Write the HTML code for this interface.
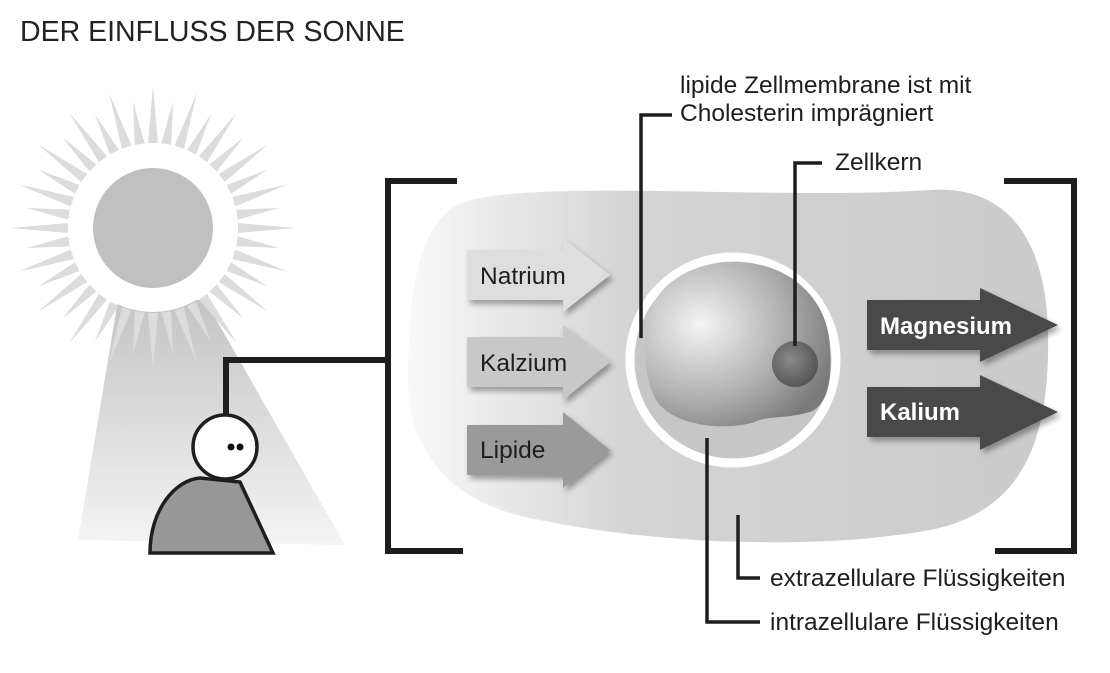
<!DOCTYPE html>
<html><head><meta charset="utf-8"><style>
html,body{margin:0;padding:0;background:#fff;}
svg{display:block;font-family:"Liberation Sans",Arial,sans-serif;}
</style></head><body>
<svg width="1110" height="673" viewBox="0 0 1110 673" xmlns="http://www.w3.org/2000/svg">
<defs>
<linearGradient id="beam" x1="0" y1="0" x2="0" y2="1">
<stop offset="0" stop-color="#c4c4c4"/><stop offset="1" stop-color="#f4f4f4"/></linearGradient>
<linearGradient id="blob" x1="0" y1="0" x2="1" y2="0">
<stop offset="0" stop-color="#f8f8f8"/><stop offset="0.35" stop-color="#d4d4d4"/><stop offset="1" stop-color="#cbcbcb"/></linearGradient>
<radialGradient id="sph" cx="0.3" cy="0.38" r="0.75">
<stop offset="0" stop-color="#f4f4f4"/><stop offset="0.6" stop-color="#b0b0b0"/><stop offset="1" stop-color="#7a7a7a"/></radialGradient>
<radialGradient id="nuc" cx="0.4" cy="0.4" r="0.7">
<stop offset="0" stop-color="#8a8a8a"/><stop offset="1" stop-color="#4e4e4e"/></radialGradient>
<filter id="sh"><feDropShadow dx="3" dy="4" stdDeviation="3" flood-color="#000" flood-opacity="0.35"/></filter>
<polygon id="rl" points="148,143 153,86 158,143"/>
<polygon id="rs" points="148,143 153,100 158,143"/>
</defs>
<text x="20" y="41" font-size="28.5" fill="#222">DER EINFLUSS DER SONNE</text>

<!-- beam -->
<polygon points="118,300 205,300 345,545 78,540" fill="url(#beam)"/>
<circle cx="153" cy="228" r="84" fill="#fff"/>
<g fill="#dcdcdc">
<use href="#rl" transform="rotate(0 153 228)"/><use href="#rs" transform="rotate(9 153 228)"/>
<use href="#rl" transform="rotate(18 153 228)"/><use href="#rs" transform="rotate(27 153 228)"/>
<use href="#rl" transform="rotate(36 153 228)"/><use href="#rs" transform="rotate(45 153 228)"/>
<use href="#rl" transform="rotate(54 153 228)"/><use href="#rs" transform="rotate(63 153 228)"/>
<use href="#rl" transform="rotate(72 153 228)"/><use href="#rs" transform="rotate(81 153 228)"/>
<use href="#rl" transform="rotate(90 153 228)"/><use href="#rs" transform="rotate(99 153 228)"/>
<use href="#rl" transform="rotate(108 153 228)"/><use href="#rs" transform="rotate(117 153 228)"/>
<use href="#rl" transform="rotate(126 153 228)"/><use href="#rs" transform="rotate(135 153 228)"/>
<use href="#rl" transform="rotate(144 153 228)"/><use href="#rs" transform="rotate(153 153 228)"/>
<use href="#rl" transform="rotate(162 153 228)"/><use href="#rs" transform="rotate(171 153 228)"/>
<use href="#rl" transform="rotate(180 153 228)"/><use href="#rs" transform="rotate(189 153 228)"/>
<use href="#rl" transform="rotate(198 153 228)"/><use href="#rs" transform="rotate(207 153 228)"/>
<use href="#rl" transform="rotate(216 153 228)"/><use href="#rs" transform="rotate(225 153 228)"/>
<use href="#rl" transform="rotate(234 153 228)"/><use href="#rs" transform="rotate(243 153 228)"/>
<use href="#rl" transform="rotate(252 153 228)"/><use href="#rs" transform="rotate(261 153 228)"/>
<use href="#rl" transform="rotate(270 153 228)"/><use href="#rs" transform="rotate(279 153 228)"/>
<use href="#rl" transform="rotate(288 153 228)"/><use href="#rs" transform="rotate(297 153 228)"/>
<use href="#rl" transform="rotate(306 153 228)"/><use href="#rs" transform="rotate(315 153 228)"/>
<use href="#rl" transform="rotate(324 153 228)"/><use href="#rs" transform="rotate(333 153 228)"/>
<use href="#rl" transform="rotate(342 153 228)"/><use href="#rs" transform="rotate(351 153 228)"/>
</g>
<circle cx="153" cy="228" r="60" fill="#c0c0c0"/>

<!-- person -->
<path d="M150,553 C150,510 175,480 200,478 L240,482 L273,553 Z" fill="#979797" stroke="#1e1e1e" stroke-width="3.5"/>
<circle cx="225" cy="447" r="32" fill="#fff" stroke="#1e1e1e" stroke-width="3.5"/>
<circle cx="231" cy="447" r="3.5" fill="#111"/><circle cx="240" cy="447" r="3.5" fill="#111"/>
<polyline points="226,415 226,360 388,360" fill="none" stroke="#1e1e1e" stroke-width="6"/>

<!-- brackets -->
<polyline points="457,181 388,181 388,551 463,551" fill="none" stroke="#1e1e1e" stroke-width="6"/>
<polyline points="1004,181 1074,181 1074,551 995,551" fill="none" stroke="#1e1e1e" stroke-width="6"/>

<!-- cell blob -->
<path d="M470,200 C560,180 780,200 930,190 C1000,185 1045,230 1048,330 C1050,430 1030,510 930,530 C820,550 660,545 540,520 C450,505 405,450 408,370 C410,280 420,215 470,200 Z" fill="url(#blob)"/>

<!-- membrane -->
<circle cx="733" cy="360" r="103" fill="#c6c6c6" stroke="#fff" stroke-width="9"/>
<path d="M645,335 C648,285 690,262 735,262 C790,262 830,300 830,350 C832,380 828,405 810,412 C780,420 770,415 755,422 C730,430 680,428 660,405 C648,392 644,365 645,335 Z" fill="url(#sph)"/>
<circle cx="795" cy="364" r="23" fill="url(#nuc)"/>

<!-- arrows -->
<g filter="url(#sh)">
<polygon points="467,250 563,250 563,238 610,275 563,312 563,300 467,300" fill="#dedede"/>
<polygon points="467,337 563,337 563,325 610,362 563,400 563,387 467,387" fill="#c8c8c8"/>
<polygon points="467,425 563,425 563,412 610,450 563,488 563,475 467,475" fill="#9a9a9a"/>
<polygon points="867,300 980,300 980,288 1058,325 980,362 980,350 867,350" fill="#4a4a4a"/>
<polygon points="867,387 980,387 980,375 1058,412 980,450 980,437 867,437" fill="#4a4a4a"/>
</g>
<g font-size="24.5" fill="#1e1e1e">
<text x="480" y="284">Natrium</text>
<text x="480" y="371">Kalzium</text>
<text x="480" y="458">Lipide</text>
</g>
<g font-size="24" font-weight="bold" fill="#fff">
<text x="880" y="334">Magnesium</text>
<text x="880" y="420">Kalium</text>
</g>

<!-- leader lines -->
<g fill="none" stroke="#1e1e1e" stroke-width="3.5">
<polyline points="641,338 641,115 672,115"/>
<polyline points="795,346 795,163 822,163"/>
<polyline points="707,438 707,622 760,622"/>
<polyline points="738,515 738,578 760,578"/>
</g>
<g font-size="24.5" fill="#1e1e1e">
<text x="680" y="93">lipide Zellmembrane ist mit</text>
<text x="680" y="121">Cholesterin imprägniert</text>
<text x="835" y="170">Zellkern</text>
<text x="770" y="586">extrazellulare Flüssigkeiten</text>
<text x="770" y="630">intrazellulare Flüssigkeiten</text>
</g>
</svg>
</body></html>
